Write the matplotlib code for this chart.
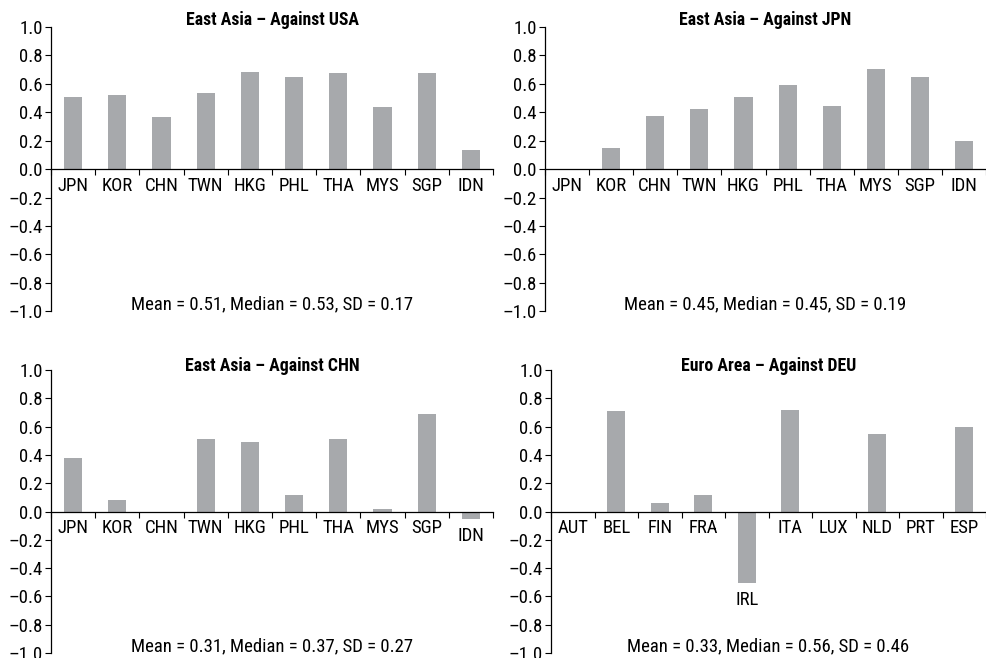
import numpy as np
import matplotlib
matplotlib.use("Agg")
import matplotlib.pyplot as plt
from matplotlib import font_manager

# ── data ──────────────────────────────────────────────────────────────────────
EA_CODES = ["JPN", "KOR", "CHN", "TWN", "HKG", "PHL", "THA", "MYS", "SGP", "IDN"]
EU_CODES = ["AUT", "BEL", "FIN", "FRA", "IRL", "ITA", "LUX", "NLD", "PRT", "ESP"]

vs_usa = [0.51, 0.52, 0.365, 0.535, 0.68, 0.645, 0.675, 0.44, 0.675, 0.135]
vs_jpn = [np.nan, 0.15, 0.375, 0.42, 0.51, 0.59, 0.445, 0.705, 0.65, 0.20]
vs_chn = [0.375, 0.085, np.nan, 0.515, 0.495, 0.115, 0.515, 0.02, 0.69, -0.055]
vs_deu = [np.nan, 0.71, 0.06, 0.12, -0.505, 0.72, np.nan, 0.55, np.nan, 0.60]

titles = ["East Asia \u2013 Against USA", "East Asia \u2013 Against JPN",
          "East Asia \u2013 Against CHN", "Euro Area \u2013 Against DEU"]
stats = ["Mean = 0.51, Median = 0.53, SD = 0.17",
         "Mean = 0.45, Median = 0.45, SD = 0.19",
         "Mean = 0.31, Median = 0.37, SD = 0.27",
         "Mean = 0.33, Median = 0.56, SD = 0.46"]

# ── fonts: prefer a narrow sans ───────────────────────────────────────────────
fonts = font_manager.fontManager.ttflist
names = {f.name for f in fonts}
FAM, STRETCH = "Liberation Sans", "normal"
for cand in ["Liberation Sans Narrow", "Roboto Condensed", "Open Sans Condensed",
             "Noto Sans Condensed", "DejaVu Sans Condensed"]:
    if cand in names:
        FAM = cand
        break
else:
    if any(f.name == "DejaVu Sans" and f.stretch == "condensed" for f in fonts):
        FAM, STRETCH = "DejaVu Sans", "condensed"
    elif any(f.name == "Noto Sans" and f.stretch == "condensed" for f in fonts):
        FAM, STRETCH = "Noto Sans", "condensed"
plt.rcParams["font.family"] = [FAM, "DejaVu Sans"]
plt.rcParams["font.stretch"] = STRETCH

BAR = "#A7A9AC"
FS = 13.5

fig = plt.figure(figsize=(9.87, 6.58), dpi=100)
fig.patch.set_facecolor("white")

# axes rectangles (left, bottom, width, height) in figure fractions
rects = [
    (0.0517, 0.527, 0.4478, 0.432),
    (0.5522, 0.527, 0.4468, 0.432),
    (0.0517, 0.0076, 0.4478, 0.430),
    (0.5583, 0.0076, 0.4407, 0.430),
]
title_y = [1.024, 1.024, 1.016, 1.016]
panels = [(EA_CODES, vs_usa), (EA_CODES, vs_jpn), (EA_CODES, vs_chn), (EU_CODES, vs_deu)]
yticks = np.round(np.arange(-1.0, 1.01, 0.2), 1)
# long dash for negatives, as in the printed style
ylabels = [f"{v:.1f}".replace("-", "\u2013") if v != 0 else "0.0" for v in yticks]

for rect, ty, (codes, vals), title, stat in zip(rects, title_y, panels, titles, stats):
    ax = fig.add_axes(rect)
    vals = np.asarray(vals, dtype=float)
    x = np.arange(len(codes))
    ax.bar(x, vals, width=0.41, color=BAR, zorder=2)

    ax.set_xlim(-0.5, len(codes) - 0.5)
    ax.set_ylim(-1.0, 1.0)
    ax.set_yticks(yticks)
    ax.set_yticklabels(ylabels, fontsize=FS)
    ax.tick_params(axis="y", direction="out", length=4, width=0.8, pad=2)

    # category axis runs along zero, ticks between categories
    ax.spines["bottom"].set_position(("data", 0))
    ax.set_xticks(np.arange(len(codes) + 1) - 0.5)
    ax.set_xticklabels([])
    ax.tick_params(axis="x", direction="out", length=4, width=0.8)
    for s in ("top", "right"):
        ax.spines[s].set_visible(False)
    for s in ("left", "bottom"):
        ax.spines[s].set_linewidth(0.9)

    # labels sit below the bar when it dips under zero
    for xi, code, v in zip(x, codes, np.nan_to_num(vals)):
        ax.text(xi, min(v, 0) - 0.055, code, ha="center", va="top", fontsize=FS)

    ax.text(0.5, ty, title, transform=ax.transAxes, ha="center", va="center",
            fontsize=12.8, fontweight="bold")
    ax.text(0.5, -0.955, stat, ha="center", va="center", fontsize=FS,
            transform=ax.get_yaxis_transform())
    ax.patch.set_alpha(0)

fig.savefig("out.png", dpi=100, facecolor="white")
